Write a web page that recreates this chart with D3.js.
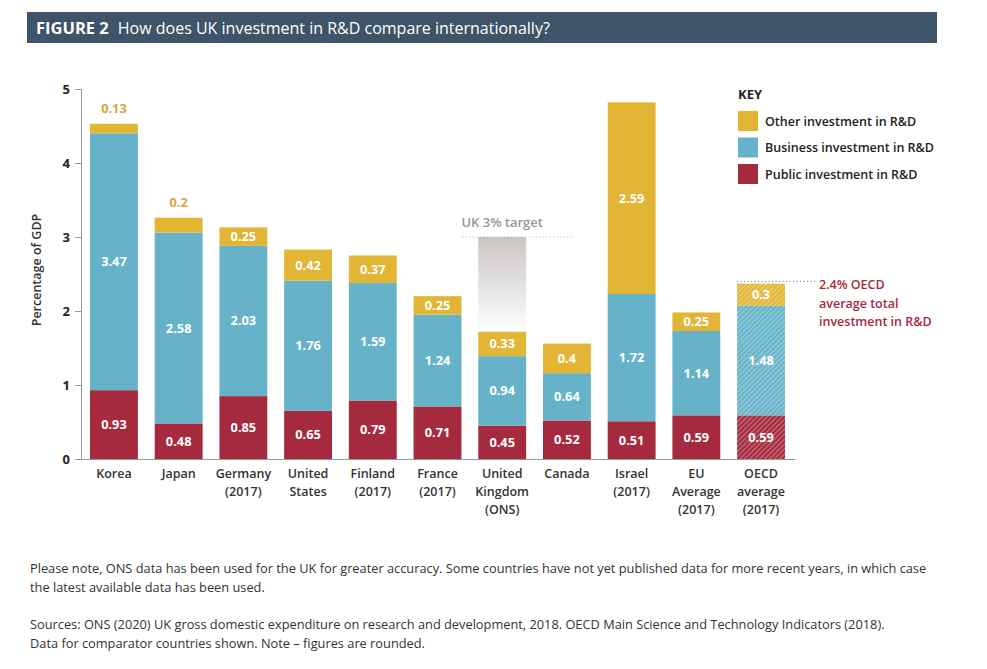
<!DOCTYPE html>
<html><head><meta charset="utf-8">
<script src="https://cdn.jsdelivr.net/npm/d3@7/dist/d3.min.js"></script>
<style>
body{margin:0;background:#fff;}
svg{display:block;font-family:"Open Sans",Lato,sans-serif;}
</style></head>
<body>
<svg id="c" width="987" height="669"></svg>
<script>
const categories = [["Korea"],["Japan"],["Germany","(2017)"],["United","States"],["Finland","(2017)"],["France","(2017)"],["United","Kingdom","(ONS)"],["Canada"],["Israel","(2017)"],["EU","Average","(2017)"],["OECD","average","(2017)"]];
const publicInv   = [0.93,0.48,0.85,0.65,0.79,0.71,0.45,0.52,0.51,0.59,0.59];
const businessInv = [3.47,2.58,2.03,1.76,1.59,1.24,0.94,0.64,1.72,1.14,1.48];
const otherInv    = [0.13,0.2,0.25,0.42,0.37,0.25,0.33,0.4,2.59,0.25,0.3];
const yTicks = [0,1,2,3,4,5];
const seriesNames = ["Other investment in R&D","Business investment in R&D","Public investment in R&D"];
const ukTarget = 3;
const oecdTotal = 2.4;

const colors = {pub:"#a62a3e", bus:"#66b3c9", oth:"#e2b535"};
const svg = d3.select("#c");
const defs = svg.append("defs");

// header
svg.append("rect").attr("x",27).attr("y",12).attr("width",910).attr("height",31).attr("fill","#3e5468");
const ht = svg.append("text").attr("x",36).attr("y",33.5).attr("fill","#fff").attr("font-size",16.5);
ht.append("tspan").attr("font-weight","bold").text("FIGURE 2");
ht.append("tspan").attr("dx",9).attr("font-size",16).text("How does UK investment in R&D compare internationally?");

const x = d3.scaleBand().domain(d3.range(categories.length)).range([81.6,793.4]).paddingInner(0.26).paddingOuter(0.13);
const y = d3.scaleLinear().domain([0,5]).range([459,89]);

// patterns for OECD bar
function hatch(id,color){
  const p = defs.append("pattern").attr("id",id).attr("patternUnits","userSpaceOnUse").attr("width",3.5).attr("height",3.5).attr("patternTransform","rotate(45)");
  p.append("rect").attr("width",3.5).attr("height",3.5).attr("fill",color);
  p.append("rect").attr("width",1.2).attr("height",3.5).attr("fill","#fff").attr("opacity",0.35);
}
hatch("hp",colors.pub); hatch("hb",colors.bus); hatch("ho",colors.oth);

// UK target gradient
const ukI = 6;
const ukTotal = publicInv[ukI]+businessInv[ukI]+otherInv[ukI];
const g = defs.append("linearGradient").attr("id","ukg").attr("x1",0).attr("y1",0).attr("x2",0).attr("y2",1);
g.append("stop").attr("offset","0%").attr("stop-color","#c9c5c3");
g.append("stop").attr("offset","100%").attr("stop-color","#ffffff");
svg.append("rect").attr("x",x(ukI)).attr("y",y(ukTarget)).attr("width",x.bandwidth()).attr("height",y(ukTotal)-y(ukTarget)).attr("fill","url(#ukg)");
svg.append("line").attr("x1",x(ukI)-16).attr("x2",x(ukI)+x.bandwidth()+48).attr("y1",y(ukTarget)).attr("y2",y(ukTarget))
  .attr("stroke","#aaa").attr("stroke-width",1).attr("stroke-dasharray","1,2.5");
svg.append("text").attr("x",x(ukI)+x.bandwidth()/2).attr("y",y(ukTarget)-10).attr("text-anchor","middle")
  .attr("fill","#9a9593").attr("font-size",13).attr("font-weight","600").text("UK 3% target");

// bars
const oecdI = categories.length-1;
categories.forEach((c,i)=>{
  const segs = [
    {v0:0, v1:publicInv[i], col:colors.pub, pat:"hp", val:publicInv[i]},
    {v0:publicInv[i], v1:publicInv[i]+businessInv[i], col:colors.bus, pat:"hb", val:businessInv[i]},
    {v0:publicInv[i]+businessInv[i], v1:publicInv[i]+businessInv[i]+otherInv[i], col:colors.oth, pat:"ho", val:otherInv[i]}
  ];
  segs.forEach((s,k)=>{
    svg.append("rect").attr("x",x(i)).attr("y",y(s.v1)).attr("width",x.bandwidth()).attr("height",y(s.v0)-y(s.v1))
      .attr("fill", i===oecdI ? `url(#${s.pat})` : s.col);
    const h = y(s.v0)-y(s.v1);
    const inside = h >= 16;
    svg.append("text").attr("x",x(i)+x.bandwidth()/2)
      .attr("y", inside ? (y(s.v0)+y(s.v1))/2+4.5 : y(s.v1)-11)
      .attr("text-anchor","middle").attr("font-size",12.8).attr("font-weight","bold")
      .attr("fill", inside ? "#fff" : "#d6a840").text(s.val);
  });
  const t = svg.append("text").attr("text-anchor","middle").attr("font-size",12.5).attr("font-weight","600").attr("fill","#333");
  c.forEach((line,j)=>t.append("tspan").attr("x",x(i)+x.bandwidth()/2).attr("y",478+j*18).text(line));
});

// OECD line and annotation
svg.append("line").attr("x1",x(oecdI)).attr("x2",815).attr("y1",y(oecdTotal)).attr("y2",y(oecdTotal))
  .attr("stroke","#666").attr("stroke-width",1).attr("stroke-dasharray","1,2.5");
["2.4% OECD","average total","investment in R&D"].forEach((s,j)=>{
  svg.append("text").attr("x",819).attr("y",289+j*18.5).attr("fill","#a62a3e").attr("font-size",12.5).attr("font-weight","600").text(s);
});

// axes
const ya = svg.append("g").attr("transform","translate(81,0)").call(d3.axisLeft(y).tickValues(yTicks).tickSize(6).tickPadding(5).tickFormat(d3.format("d")));
ya.select(".domain").attr("stroke","#999").attr("d","M-6,89.5H0.5V459.5");
ya.selectAll(".tick line").attr("stroke","#999");
ya.selectAll(".tick text").attr("font-size",13).attr("font-weight","bold").attr("fill","#222").attr("font-family","'Open Sans',sans-serif");
svg.append("line").attr("x1",75).attr("x2",795).attr("y1",459.5).attr("y2",459.5).attr("stroke","#999");

svg.append("text").attr("transform","translate(41,270) rotate(-90)").attr("text-anchor","middle")
  .attr("font-size",12.5).attr("font-weight","600").attr("fill","#333").text("Percentage of GDP");

// key
svg.append("text").attr("x",738).attr("y",99).attr("font-size",13).attr("font-weight","bold").attr("fill","#222").text("KEY");
[colors.oth,colors.bus,colors.pub].forEach((col,k)=>{
  const yy = 111 + k*26.5;
  svg.append("rect").attr("x",738).attr("y",yy).attr("width",20).attr("height",20).attr("fill",col);
  svg.append("text").attr("x",765).attr("y",yy+14.5).attr("font-size",12.5).attr("font-weight","600").attr("fill","#222").text(seriesNames[k]);
});

// footnotes
const notes = [
  ["Please note, ONS data has been used for the UK for greater accuracy. Some countries have not yet published data for more recent years, in which case", 573],
  ["the latest available data has been used.", 592],
  ["Sources: ONS (2020) UK gross domestic expenditure on research and development, 2018. OECD Main Science and Technology Indicators (2018).", 629],
  ["Data for comparator countries shown. Note – figures are rounded.", 648]
];
notes.forEach(([s,yy])=>svg.append("text").attr("x",30).attr("y",yy).attr("font-size",12.8).attr("fill","#333").text(s));
</script>
</body></html>
